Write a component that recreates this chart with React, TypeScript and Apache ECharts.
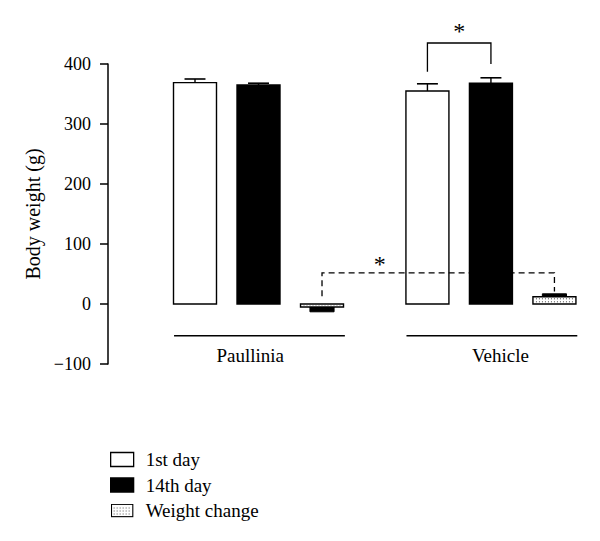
import React, { useEffect, useRef } from "react";
import * as echarts from "echarts";

// ---- data ----
const groups = ["Paullinia", "Vehicle"];
const seriesNames = ["1st day", "14th day", "Weight change"];
const firstDay = [369, 355];
const firstDayErr = [6, 12];
const day14 = [365, 368];
const day14Err = [3, 9];
const weightChange = [-5, 12];
const weightChangeErr = [8, 5];
const yTicks = [-100, 0, 100, 200, 300, 400];
// significance brackets: [xFrom, xTo, yTop, yLeftEnd, yRightEnd, label x, label y, dashed]
const sigBrackets = [
  [3.66, 4.66, 435, 387, 400, 4.16, 455, 0],
  [2, 5.66, 52, 13, 21, 2.91, 66, 1],
];

// layout constants (positions in axis units)
const groupStep = 3.66;
const barW = 0.677;
const errW = 0.38;
const capW = 0.33;
const groupLineY = -53;
const groupLabelY = -85;
const groupLabelShift = [-0.15, 0.13];

const FONT = "Liberation Serif";

const legendIconSvg =
  "<svg xmlns='http://www.w3.org/2000/svg' width='23' height='14'>" +
  "<rect x='0.75' y='0.75' width='21.5' height='12.5' fill='white' stroke='black' stroke-width='1.3'/>" +
  "<line x1='3' y1='4.5' x2='21' y2='4.5' stroke='#555' stroke-width='1' stroke-dasharray='1 2'/>" +
  "<line x1='3' y1='7.5' x2='21' y2='7.5' stroke='#555' stroke-width='1' stroke-dasharray='1 2'/>" +
  "<line x1='3' y1='10.5' x2='21' y2='10.5' stroke='#555' stroke-width='1' stroke-dasharray='1 2'/>" +
  "</svg>";
const weightIcon = "image://data:image/svg+xml;utf8," + encodeURIComponent(legendIconSvg);

function barSeries(name: string, values: number[], errs: number[], sIndex: number, kind: string) {
  return {
    type: "custom",
    name,
    clip: false,
    data: groups.map((g, i) => [i * groupStep + sIndex, values[i], errs[i]]),
    encode: { x: 0, y: 1 },
    itemStyle: { color: kind === "black" ? "#000" : "#fff", borderColor: "#000" },
    renderItem: (params: any, api: any) => {
      const x = api.value(0);
      const v = api.value(1);
      const e = api.value(2);
      const bw = api.size([barW, 0])[0];
      const p0 = api.coord([x, 0]);
      const p1 = api.coord([x, v]);
      const left = p0[0] - bw / 2;
      const top = Math.min(p0[1], p1[1]);
      const h = Math.abs(p1[1] - p0[1]);
      const sign = v < 0 ? -1 : 1;
      const pe = api.coord([x, v + sign * e]);
      const children: any[] = [];
      if (kind === "dotted") {
        const ew = api.size([errW, 0])[0];
        children.push({
          type: "rect",
          shape: { x: p0[0] - ew / 2, y: Math.min(p1[1], pe[1]), width: ew, height: Math.abs(pe[1] - p1[1]) },
          style: { fill: "#000", stroke: "#000", lineWidth: 1 },
        });
        children.push({
          type: "rect",
          shape: { x: left, y: top, width: bw, height: h },
          style: { fill: "#fff", stroke: "#000", lineWidth: 1.4 },
        });
        for (let yy = top + 2; yy < top + h - 0.5; yy += 3) {
          children.push({
            type: "line",
            shape: { x1: left + 3, y1: yy, x2: left + bw - 3, y2: yy },
            style: { stroke: "#444", lineWidth: 1, lineDash: [1, 2] },
          });
        }
      } else {
        const cw = api.size([capW, 0])[0];
        children.push({
          type: "line",
          shape: { x1: p0[0], y1: p1[1], x2: p0[0], y2: pe[1] },
          style: { stroke: "#000", lineWidth: 1.4 },
        });
        children.push({
          type: "line",
          shape: { x1: p0[0] - cw / 2, y1: pe[1], x2: p0[0] + cw / 2, y2: pe[1] },
          style: { stroke: "#000", lineWidth: 1.6 },
        });
        children.push({
          type: "rect",
          shape: { x: left, y: top, width: bw, height: h },
          style: { fill: kind === "black" ? "#000" : "#fff", stroke: "#000", lineWidth: 1.4 },
        });
      }
      return { type: "group", children };
    },
  };
}

export default function App() {
  const ref = useRef<HTMLDivElement>(null);
  useEffect(() => {
    if (!ref.current) return;
    const chart = echarts.init(ref.current, null, { renderer: "svg" });
    const option: any = {
      animation: false,
      backgroundColor: "#fff",
      textStyle: { fontFamily: FONT },
      grid: { left: 108, right: 10, top: 64, bottom: 177, containLabel: false },
      xAxis: { type: "value", min: -1.37, max: 6.22, show: false },
      yAxis: {
        type: "value",
        min: yTicks[0],
        max: yTicks[yTicks.length - 1],
        interval: 100,
        name: "Body weight (g)",
        nameLocation: "middle",
        nameGap: 55,
        nameTextStyle: { fontFamily: FONT, fontSize: 20, color: "#000" },
        axisLine: { show: true, onZero: false, lineStyle: { color: "#000", width: 1.5 } },
        axisTick: { show: true, length: 8, lineStyle: { color: "#000", width: 1.5 } },
        splitLine: { show: false },
        axisLabel: {
          fontFamily: FONT,
          fontSize: 18,
          color: "#000",
          margin: 17,
          formatter: (v: number) => (v < 0 ? "\u2212" + Math.abs(v) : String(v)),
        },
      },
      legend: {
        orient: "vertical",
        left: 110,
        top: 450,
        padding: 0,
        itemWidth: 23,
        itemHeight: 14,
        itemGap: 6.5,
        selectedMode: false,
        textStyle: { fontFamily: FONT, fontSize: 19, color: "#000", padding: [0, 0, 0, 7] },
        data: [
          { name: seriesNames[0], icon: "rect", itemStyle: { color: "#fff", borderColor: "#000", borderWidth: 1.3 } },
          { name: seriesNames[1], icon: "rect", itemStyle: { color: "#000", borderColor: "#000", borderWidth: 1.3 } },
          { name: seriesNames[2], icon: weightIcon },
        ],
      },
      series: [
        barSeries(seriesNames[0], firstDay, firstDayErr, 0, "white"),
        barSeries(seriesNames[1], day14, day14Err, 1, "black"),
        barSeries(seriesNames[2], weightChange, weightChangeErr, 2, "dotted"),
        {
          type: "custom",
          name: "groups",
          clip: false,
          data: groups.map((g, i) => [i * groupStep, i]),
          encode: { x: 0, y: 1 },
          renderItem: (params: any, api: any) => {
            const x0 = api.value(0);
            const idx = api.value(1);
            const a = api.coord([x0 - 0.33, groupLineY]);
            const b = api.coord([x0 + 2 + 0.36, groupLineY]);
            const c = api.coord([x0 + 1.02 + groupLabelShift[idx], groupLabelY]);
            return {
              type: "group",
              children: [
                { type: "line", shape: { x1: a[0], y1: a[1], x2: b[0], y2: b[1] }, style: { stroke: "#000", lineWidth: 1.5 } },
                {
                  type: "text",
                  x: c[0],
                  y: c[1],
                  style: { text: groups[idx], fontFamily: FONT, fontSize: 19, fill: "#000", align: "center", verticalAlign: "middle" },
                },
              ],
            };
          },
        },
        {
          type: "custom",
          name: "significance",
          clip: false,
          data: sigBrackets,
          encode: { x: 0, y: 2 },
          renderItem: (params: any, api: any) => {
            const xa = api.value(0), xb = api.value(1), yt = api.value(2);
            const yl = api.value(3), yr = api.value(4), lx = api.value(5), ly = api.value(6);
            const dashed = api.value(7) === 1;
            const pA = api.coord([xa, yt]);
            const pB = api.coord([xb, yt]);
            const pL = api.coord([xa, yl]);
            const pR = api.coord([xb, yr]);
            const pT = api.coord([lx, ly]);
            const ls: any = { stroke: "#000", lineWidth: 1.3 };
            if (dashed) ls.lineDash = [6, 4];
            return {
              type: "group",
              children: [
                { type: "polyline", shape: { points: [pL, pA, pB, pR] }, style: { ...ls, fill: null } },
                {
                  type: "text",
                  x: pT[0],
                  y: pT[1],
                  style: { text: "*", fontFamily: FONT, fontSize: 24, fill: "#000", align: "center", verticalAlign: "middle" },
                },
              ],
            };
          },
        },
      ],
    };
    chart.setOption(option);
    return () => chart.dispose();
  }, []);
  return <div ref={ref} style={{ width: 600, height: 541, position: "absolute", left: 0, top: 0 }} />;
}
